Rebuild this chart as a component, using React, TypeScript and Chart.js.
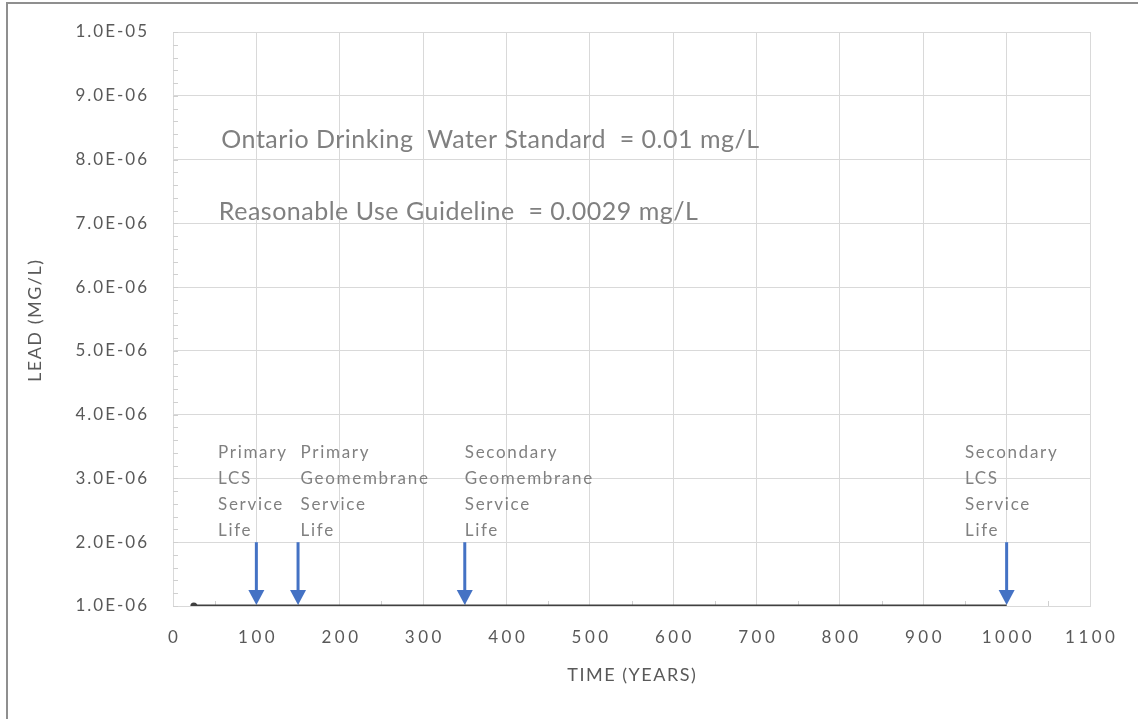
import React, { useEffect, useRef } from "react";
import { Chart, registerables } from "chart.js";

Chart.register(...registerables);

// ---- data ----
const seriesYears = [25, 100, 150, 200, 300, 350, 400, 500, 600, 700, 800, 900, 1000];
const leadValues = [1e-6, 1e-6, 1e-6, 1e-6, 1e-6, 1e-6, 1e-6, 1e-6, 1e-6, 1e-6, 1e-6, 1e-6, 1e-6];

const xTickValues = [0, 100, 200, 300, 400, 500, 600, 700, 800, 900, 1000, 1100];
const xTickLabels = ["0", "100", "200", "300", "400", "500", "600", "700", "800", "900", "1000", "1100"];
const xMinorStep = 50;
const xTitle = "TIME (YEARS)";

const yTickValues = [1e-6, 2e-6, 3e-6, 4e-6, 5e-6, 6e-6, 7e-6, 8e-6, 9e-6, 1e-5];
const yTickLabels = ["1.0E-06", "2.0E-06", "3.0E-06", "4.0E-06", "5.0E-06", "6.0E-06", "7.0E-06", "8.0E-06", "9.0E-06", "1.0E-05"];
const yMinorStep = 2e-7;
const yTitle = "LEAD (MG/L)";

const arrowYears = [100, 150, 350, 1000];
const arrowTopValue = 2e-6;
const arrowBottomValue = 1e-6;

const eventLabels = [
  ["Primary", "LCS", "Service", "Life"],
  ["Primary", "Geomembrane", "Service", "Life"],
  ["Secondary", "Geomembrane", "Service", "Life"],
  ["Secondary", "LCS", "Service", "Life"],
];
const eventLabelYears = [54, 153, 350, 950];
const eventLabelValue = 3.4e-6;

const noteTexts = ["Ontario Drinking  Water Standard  = 0.01 mg/L", "Reasonable Use Guideline  = 0.0029 mg/L"];
const noteYears = [58, 55];
const noteValues = [8.3e-6, 7.18e-6];

const FONT = "Lato, 'Open Sans', sans-serif";

const setSpacing = (ctx: any, s: number) => {
  ctx.letterSpacing = `${s}px`;
};

const decorPlugin = {
  id: "decor",
  beforeDatasetsDraw(chart: any) {
    const { ctx, chartArea } = chart;
    const xs = chart.scales.x;
    const ys = chart.scales.y;
    ctx.save();
    // minor ticks
    ctx.strokeStyle = "#d0d0d0";
    ctx.lineWidth = 1;
    ctx.beginPath();
    for (let v = ys.min; v <= ys.max + 1e-12; v += yMinorStep) {
      const py = Math.round(ys.getPixelForValue(v)) + 0.5;
      ctx.moveTo(chartArea.left, py);
      ctx.lineTo(chartArea.left + 5, py);
    }
    for (let v = xs.min + xMinorStep; v < xs.max; v += 2 * xMinorStep) {
      const px = Math.round(xs.getPixelForValue(v)) + 0.5;
      ctx.moveTo(px, chartArea.bottom);
      ctx.lineTo(px, chartArea.bottom - 5);
    }
    ctx.stroke();

    // tick labels
    ctx.fillStyle = "#595959";
    ctx.textBaseline = "middle";
    ctx.font = `17px ${FONT}`;
    setSpacing(ctx, 3.5);
    ctx.textAlign = "center";
    xTickValues.forEach((v, i) => {
      ctx.fillText(xTickLabels[i], xs.getPixelForValue(v) + 1.75, xs.top + 32);
    });
    setSpacing(ctx, 2);
    ctx.textAlign = "right";
    yTickValues.forEach((v, i) => {
      ctx.fillText(yTickLabels[i], ys.right - 24, ys.getPixelForValue(v));
    });

    // axis titles
    ctx.font = `18px ${FONT}`;
    setSpacing(ctx, 1.5);
    ctx.textAlign = "center";
    ctx.fillText(xTitle, (chartArea.left + chartArea.right) / 2 + 0.75, xs.top + 69);
    ctx.save();
    ctx.translate(ys.left + 35, (chartArea.top + chartArea.bottom) / 2 + 2);
    ctx.rotate(-Math.PI / 2);
    ctx.fillText(yTitle, 0.75, 0);
    ctx.restore();
    setSpacing(ctx, 0);
    ctx.restore();
  },
  afterDatasetsDraw(chart: any) {
    const { ctx } = chart;
    const xs = chart.scales.x;
    const ys = chart.scales.y;
    ctx.save();
    // arrows
    ctx.strokeStyle = "#4472C4";
    ctx.fillStyle = "#4472C4";
    arrowYears.forEach((yr) => {
      const px = xs.getPixelForValue(yr);
      const top = ys.getPixelForValue(arrowTopValue);
      const tip = ys.getPixelForValue(arrowBottomValue) - 1;
      ctx.lineWidth = 3;
      ctx.beginPath();
      ctx.moveTo(px, top);
      ctx.lineTo(px, tip - 12);
      ctx.stroke();
      ctx.beginPath();
      ctx.moveTo(px - 8, tip - 15);
      ctx.lineTo(px + 8, tip - 15);
      ctx.lineTo(px, tip);
      ctx.closePath();
      ctx.fill();
    });

    // event labels
    ctx.fillStyle = "#808080";
    ctx.font = `17px ${FONT}`;
    ctx.textAlign = "left";
    ctx.textBaseline = "middle";
    setSpacing(ctx, 1.7);
    eventLabels.forEach((lines, i) => {
      const px = xs.getPixelForValue(eventLabelYears[i]);
      const py = ys.getPixelForValue(eventLabelValue);
      lines.forEach((t, j) => ctx.fillText(t, px, py + j * 26));
    });

    // notes
    ctx.font = `25px ${FONT}`;
    setSpacing(ctx, 0.5);
    noteTexts.forEach((t, i) => {
      ctx.fillText(t, xs.getPixelForValue(noteYears[i]), ys.getPixelForValue(noteValues[i]));
    });
    setSpacing(ctx, 0);
    ctx.restore();
  },
};

export default function App() {
  const ref = useRef<HTMLCanvasElement>(null);
  useEffect(() => {
    document.body.style.margin = "0";
    const gridColor = "#d9d9d9";
    const chart = new Chart(ref.current!, {
      type: "line",
      data: {
        datasets: [
          {
            data: seriesYears.map((x, i) => ({ x, y: leadValues[i] })),
            borderColor: "#404040",
            backgroundColor: "#404040",
            borderWidth: 3,
            pointRadius: seriesYears.map((_, i) => (i === 0 ? 3.5 : 0)),
            pointBorderWidth: 0,
            pointBackgroundColor: "#404040",
            tension: 0,
          },
        ],
      },
      options: {
        responsive: false,
        animation: false,
        events: [],
        layout: { padding: { left: 0, top: 32, right: 48, bottom: 30 } },
        plugins: { legend: { display: false }, tooltip: { enabled: false } },
        scales: {
          x: {
            type: "linear",
            min: 0,
            max: 1100,
            afterBuildTicks: (s: any) => {
              s.ticks = xTickValues.map((v) => ({ value: v }));
            },
            afterFit: (s: any) => {
              s.height = 83;
            },
            grid: { color: gridColor, drawTicks: false, lineWidth: 1 },
            border: { display: true, color: gridColor },
            ticks: { display: false },
            title: { display: false },
          },
          y: {
            type: "linear",
            min: 1e-6,
            max: 1e-5,
            afterBuildTicks: (s: any) => {
              s.ticks = yTickValues.map((v) => ({ value: v }));
            },
            afterFit: (s: any) => {
              s.width = 173;
            },
            grid: { color: gridColor, drawTicks: false, lineWidth: 1 },
            border: { display: true, color: gridColor },
            ticks: { display: false },
            title: { display: false },
          },
        },
      },
      plugins: [decorPlugin],
    });
    return () => chart.destroy();
  }, []);

  return (
    <div style={{ position: "relative", width: 1138, height: 719, background: "#fff", overflow: "hidden" }}>
      <div
        style={{
          position: "absolute",
          left: 6,
          top: 2,
          right: -10,
          bottom: -10,
          borderLeft: "2px solid #8f8f8f",
          borderTop: "2px solid #8f8f8f",
        }}
      />
      <canvas ref={ref} width={1138} height={719} style={{ position: "absolute", left: 0, top: 0, display: "block" }} />
    </div>
  );
}
